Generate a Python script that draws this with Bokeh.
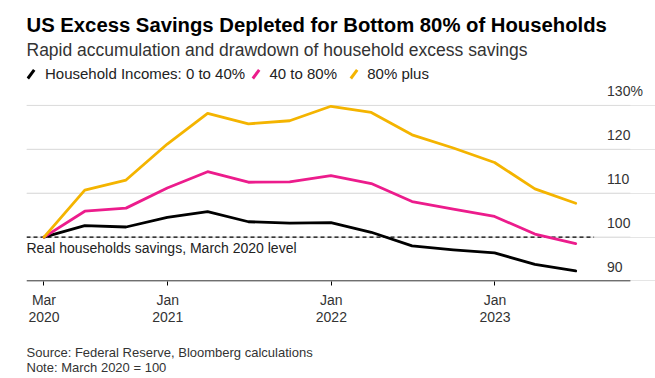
from bokeh.plotting import figure
from bokeh.models import Range1d, FixedTicker, CustomJSTickFormatter, Label
from bokeh.layouts import column
from bokeh.core.properties import value
from bokeh.embed import file_html
from bokeh.resources import INLINE
import pandas as pd

# ---- data ----
dates = ["2020-03-31", "2020-06-30", "2020-09-30", "2020-12-31",
         "2021-03-31", "2021-06-30", "2021-09-30", "2021-12-31",
         "2022-03-31", "2022-06-30", "2022-09-30", "2022-12-31",
         "2023-03-31", "2023-06-30"]
income_0_40 = [100, 102.6, 102.3, 104.5, 105.8, 103.5, 103.2, 103.3,
               101.1, 98.0, 97.1, 96.4, 93.8, 92.3]
income_40_80 = [100, 105.9, 106.6, 111.2, 114.9, 112.5, 112.6, 114.0,
                112.2, 108.1, 106.4, 104.7, 100.7, 98.5]
income_80_plus = [100, 110.7, 113.0, 121.2, 128.2, 125.8, 126.5, 129.8,
                  128.4, 123.3, 120.3, 117.0, 111.0, 107.7]
series_names = ["Household Incomes: 0 to 40%", "40 to 80%", "80% plus"]
y_tick_values = [90, 100, 110, 120, 130]
y_tick_labels = ["90", "100", "110", "120", "130%"]
grid_values = [100, 110, 120, 130]
x_tick_dates = ["2020-03-31", "2021-01-01", "2022-01-01", "2023-01-01"]
x_tick_labels = ["Mar\n2020", "Jan\n2021", "Jan\n2022", "Jan\n2023"]
baseline_value = 100
baseline_label = "Real households savings, March 2020 level"

title = "US Excess Savings Depleted for Bottom 80% of Households"
subtitle = "Rapid accumulation and drawdown of household excess savings"
source_text = "Source: Federal Reserve, Bloomberg calculations"
note_text = "Note: March 2020 = 100"

# ---- layout / style ----
FONT = "Liberation Sans"
colors = ["#000000", "#EC1C8C", "#F4B400"]
W = 655
LEFT = 26
HEAD_H, MAIN_H, FOOT_H = 83, 252, 43
x_start, x_end = pd.Timestamp("2020-02-21"), pd.Timestamp("2023-12-25")
grid_end = pd.Timestamp("2023-10-30")        # where grid lines / axis line stop
dash_end = pd.Timestamp("2023-08-10")        # where the reference dashed line stops
ylabel_x = pd.Timestamp("2023-09-08")        # left edge of y tick labels
y_start, y_end = 89.886, 134.99
LABEL_RAISE = 3.3                            # y labels sit above their grid line
BASE_FIX = 4.5                               # baseline correction (px)

def bare(h):
    f = figure(width=W, height=h, x_range=Range1d(LEFT, W), y_range=Range1d(h, 0),
               output_backend="svg", toolbar_location=None, min_border=0,
               min_border_left=LEFT, min_border_right=0,
               outline_line_color=None, background_fill_color="white",
               border_fill_color="white", x_axis_location=None, y_axis_location=None)
    f.grid.visible = False
    return f

def lab(f, text, x, y, size, color="#333333", style="normal"):
    f.add_layout(Label(text=text, x=x, y=y - BASE_FIX, text_font=FONT, text_font_size=size,
                       text_color=color, text_font_style=style,
                       text_baseline="alphabetic", text_align="left"))

# ---- header (pixel coordinates, y downward) ----
head = bare(HEAD_H)
lab(head, title, 26, 28.7, "20.3px", color="#000000", style="bold")
lab(head, subtitle, 26, 53.5, "17.5px", color="#333333")
legend_text_x = [44.5, 269, 366.7]
legend_icon_x = [30.5, 255.5, 353.5]
for name, c, tx, ix in zip(series_names, colors, legend_text_x, legend_icon_x):
    lab(head, name, tx, 77.3, "15px", color="#222222")
    head.segment(x0=[ix - 3.2], y0=[78.0], x1=[ix + 3.2], y1=[69.4],
                 line_color=c, line_width=3, line_cap="butt")

# ---- main chart ----
x = pd.to_datetime(dates)
tick_ms = [float(pd.Timestamp(d).value // 10**6) for d in x_tick_dates]

p = figure(width=W, height=MAIN_H, x_axis_type="datetime", y_axis_location=None,
           x_range=Range1d(x_start, x_end), y_range=Range1d(y_start, y_end),
           output_backend="svg", toolbar_location=None,
           min_border_left=LEFT, min_border_right=0, min_border_top=0,
           min_border_bottom=MAIN_H - 198, outline_line_color=None,
           background_fill_color="white", border_fill_color="white")
p.xgrid.visible = False

xa = p.xaxis[0]
xa.ticker = FixedTicker(ticks=tick_ms)
xa.formatter = CustomJSTickFormatter(args=dict(tick_pos=tick_ms, tick_text=x_tick_labels), code="""
let best = 0, bd = Infinity;
for (let i = 0; i < tick_pos.length; i++) {
  const d = Math.abs(tick_pos[i] - tick);
  if (d < bd) { bd = d; best = i; }
}
return tick_text[best];
""")
xa.axis_line_color = None
xa.major_tick_line_color = "black"
xa.major_tick_in = 0
xa.major_tick_out = 4
xa.minor_tick_line_color = None
xa.major_label_standoff = 6
xa.major_label_text_font = FONT
xa.major_label_text_font_size = "14px"
xa.major_label_text_color = "#333333"
xa.major_label_text_line_height = 1.1

# grid lines and axis line (stop short of the right labels)
n = len(grid_values)
p.segment(x0=[x_start] * n, y0=grid_values, x1=[grid_end] * n, y1=grid_values,
          line_color="#dcdcdc", line_width=1)
p.segment(x0=[x_start], y0=[y_tick_values[0]], x1=[grid_end], y1=[y_tick_values[0]],
          line_color="black", line_width=1)

# y tick labels, left aligned, above grid lines
p.text(x=[ylabel_x] * len(y_tick_values), y=[v + LABEL_RAISE for v in y_tick_values],
       text=y_tick_labels, text_font=value(FONT), text_font_size="14px",
       text_color="#333333", text_align="left", text_baseline="alphabetic")

# reference dashed line
p.line(x=[x_start, dash_end], y=[baseline_value, baseline_value],
       line_color="black", line_width=1.3, line_dash="4 3")
p.text(x=[x_start], y=[baseline_value], text=[baseline_label], text_font=value(FONT),
       text_font_size="14px", text_color="#222222", text_align="left",
       text_baseline="alphabetic", y_offset=10.5)

for vals, c in zip([income_0_40, income_40_80, income_80_plus], colors):
    p.line(x=x, y=vals, line_color=c, line_width=2.8, line_join="round", line_cap="round")

# ---- footer ----
foot = bare(FOOT_H)
lab(foot, source_text, 26, 21, "13px")
lab(foot, note_text, 26, 36, "13px")

layout = column(head, p, foot, spacing=0)
open("out.html", "w").write(file_html(layout, INLINE))
